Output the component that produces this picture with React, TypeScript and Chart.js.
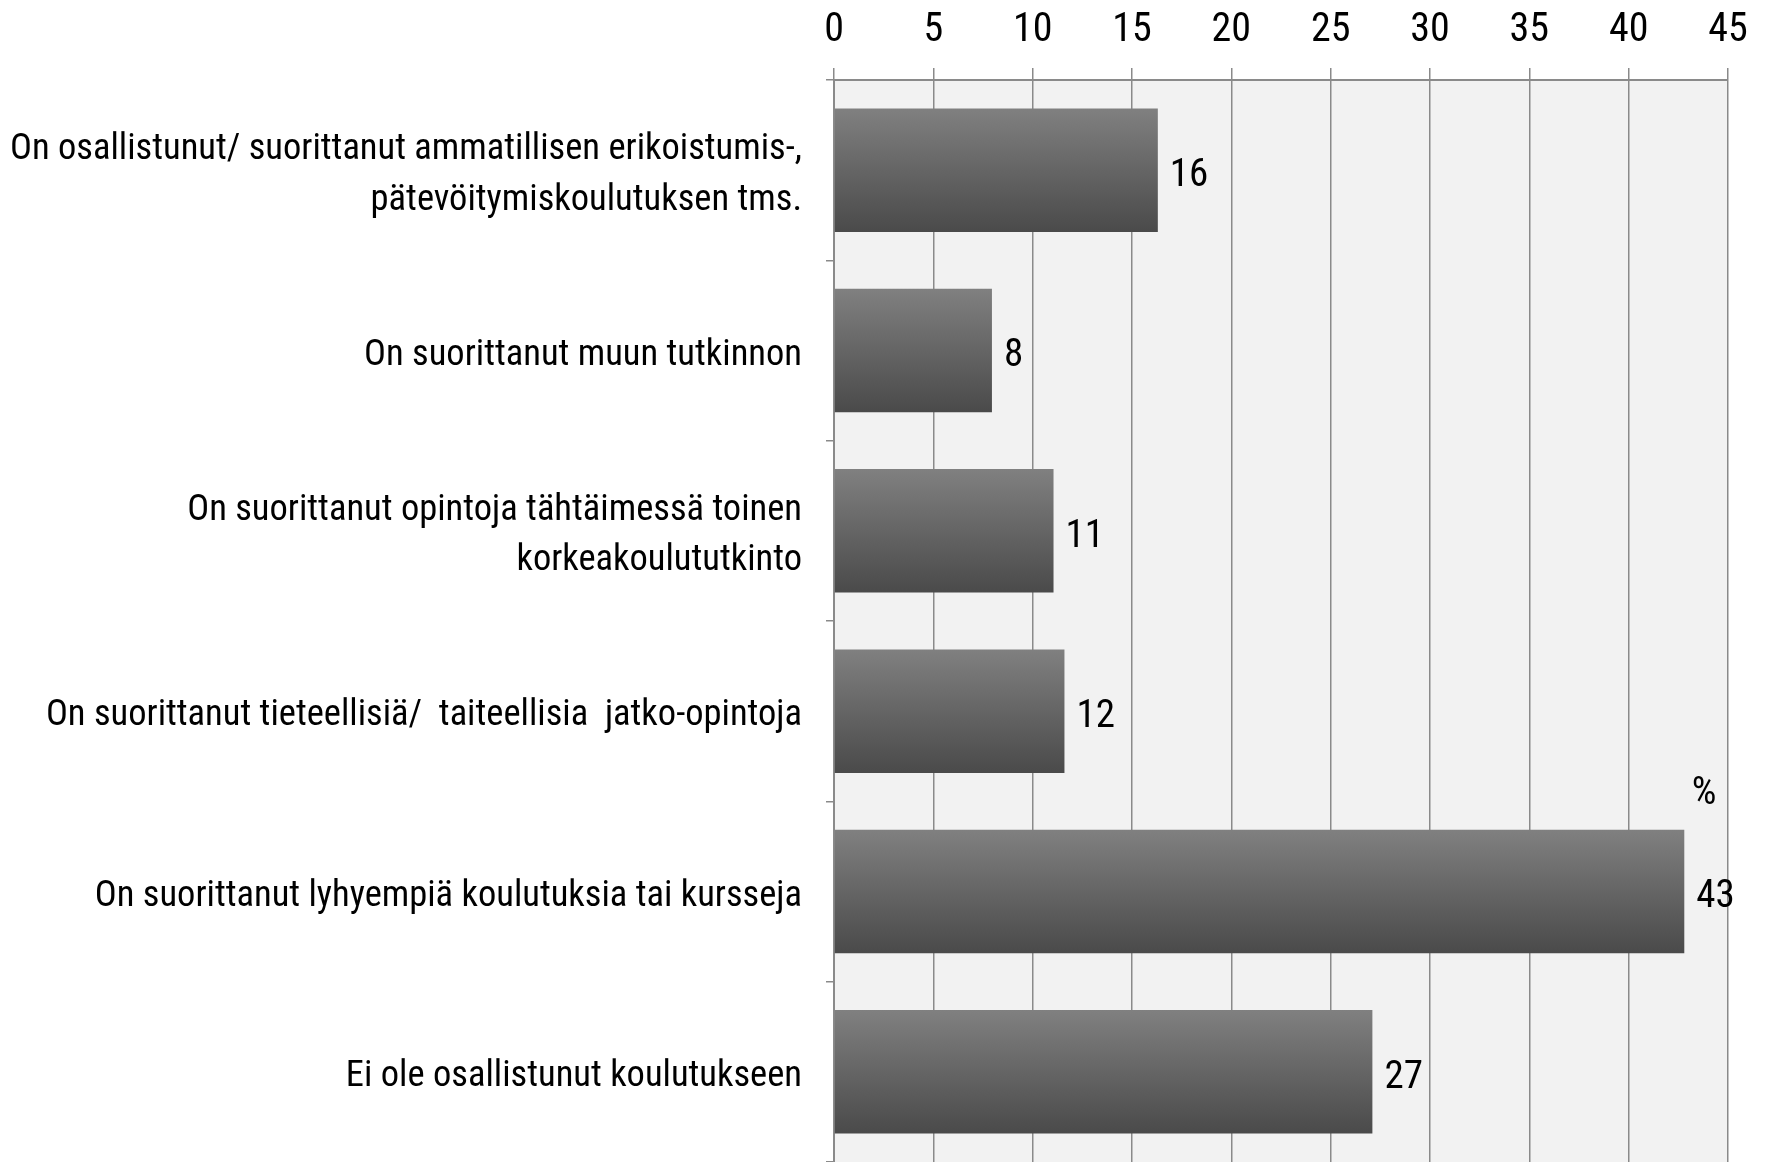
import React, { useEffect, useRef } from "react";
import { Chart, registerables } from "chart.js";

Chart.register(...registerables);

const categories: (string | string[])[] = [
  ["On osallistunut/ suorittanut ammatillisen erikoistumis-,", "pätevöitymiskoulutuksen tms."],
  "On suorittanut muun tutkinnon",
  ["On suorittanut opintoja tähtäimessä toinen", "korkeakoulututkinto"],
  "On suorittanut tieteellisiä/  taiteellisia  jatko-opintoja",
  "On suorittanut lyhyempiä koulutuksia tai kursseja",
  "Ei ole osallistunut koulutukseen",
];
const values: number[] = [16.3, 7.95, 11.05, 11.6, 42.8, 27.1];
const xTicksMin = 0;
const xTicksMax = 45;
const xStep = 5;
const unitLabel = "%";
const unitLabelValue = 43.8;

const FONT = "'Roboto Condensed', 'DejaVu Sans Condensed', sans-serif";
const WEIGHT = "400";

export default function App() {
  const ref = useRef<HTMLCanvasElement>(null);
  useEffect(() => {
    document.body.style.margin = "0";
    const canvas = ref.current!;
    const chart = new Chart(canvas, {
      type: "bar",
      data: {
        labels: categories,
        datasets: [
          {
            data: values,
            categoryPercentage: 1,
            barPercentage: 0.685,
            backgroundColor: (ctx: any) => {
              const ch = ctx.chart;
              const area = ch.chartArea;
              if (!area || ctx.dataIndex === undefined) return "#666";
              const ys = ch.scales.y;
              const y = ys.getPixelForValue(ctx.dataIndex);
              const half = ((area.bottom - area.top) / categories.length) * 0.685 / 2;
              const g = ch.ctx.createLinearGradient(0, y - half, 0, y + half);
              g.addColorStop(0, "#808080");
              g.addColorStop(1, "#4a4a4a");
              return g;
            },
          },
        ],
      },
      options: {
        indexAxis: "y",
        animation: false,
        responsive: false,
        maintainAspectRatio: false,
        layout: { padding: { left: 0, right: 37, top: 0, bottom: 0 } },
        plugins: { legend: { display: false }, tooltip: { enabled: false } },
        scales: {
          x: {
            position: "top",
            min: xTicksMin,
            max: xTicksMax,
            ticks: { stepSize: xStep, color: "#000", font: { family: FONT, size: 40, weight: WEIGHT }, padding: 13 },
            grid: { color: "#8a8a8a", lineWidth: 1.5, tickLength: 12 },
            border: { color: "#8a8a8a", width: 2 },
            afterFit: (s: any) => { s.height = 80; s.paddingLeft = 0; s.paddingRight = 0; },
          },
          y: {
            offset: true,
            ticks: { color: "#000", font: { family: FONT, size: 36.5, weight: WEIGHT, lineHeight: 1.39 }, padding: 24, labelOffset: 5 },
            grid: { drawOnChartArea: false, offset: true, color: "#8a8a8a", lineWidth: 1.5, tickLength: 8 },
            border: { color: "#8a8a8a", width: 2 },
            afterFit: (s: any) => { s.width = 834; s.paddingTop = 0; s.paddingBottom = 0; },
          },
        },
      },
      plugins: [
        {
          id: "bg",
          beforeDraw: (ch: any) => {
            const { ctx, chartArea: a } = ch;
            ctx.save();
            ctx.fillStyle = "#f2f2f2";
            ctx.fillRect(a.left, a.top, a.right - a.left, a.bottom - a.top);
            ctx.restore();
          },
        },
        {
          id: "labels",
          afterDatasetsDraw: (ch: any) => {
            const { ctx } = ch;
            const meta = ch.getDatasetMeta(0);
            ctx.save();
            ctx.fillStyle = "#000";
            ctx.font = `${WEIGHT} 39px ${FONT}`;
            ctx.textAlign = "left";
            ctx.textBaseline = "middle";
            meta.data.forEach((el: any, i: number) => {
              ctx.fillText(String(Math.round(values[i])), el.x + 12, el.y + 6);
            });
            const a = ch.chartArea;
            const half = ((a.bottom - a.top) / categories.length) * 0.685 / 2;
            ctx.textAlign = "center";
            ctx.fillText(unitLabel, ch.scales.x.getPixelForValue(unitLabelValue), ch.scales.y.getPixelForValue(4) - half - 35);
            ctx.restore();
          },
        },
      ],
    } as any);
    return () => chart.destroy();
  }, []);
  return (
    <div style={{ width: 1765, height: 1162 }}>
      <canvas ref={ref} width={1765} height={1162} style={{ display: "block" }} />
    </div>
  );
}
